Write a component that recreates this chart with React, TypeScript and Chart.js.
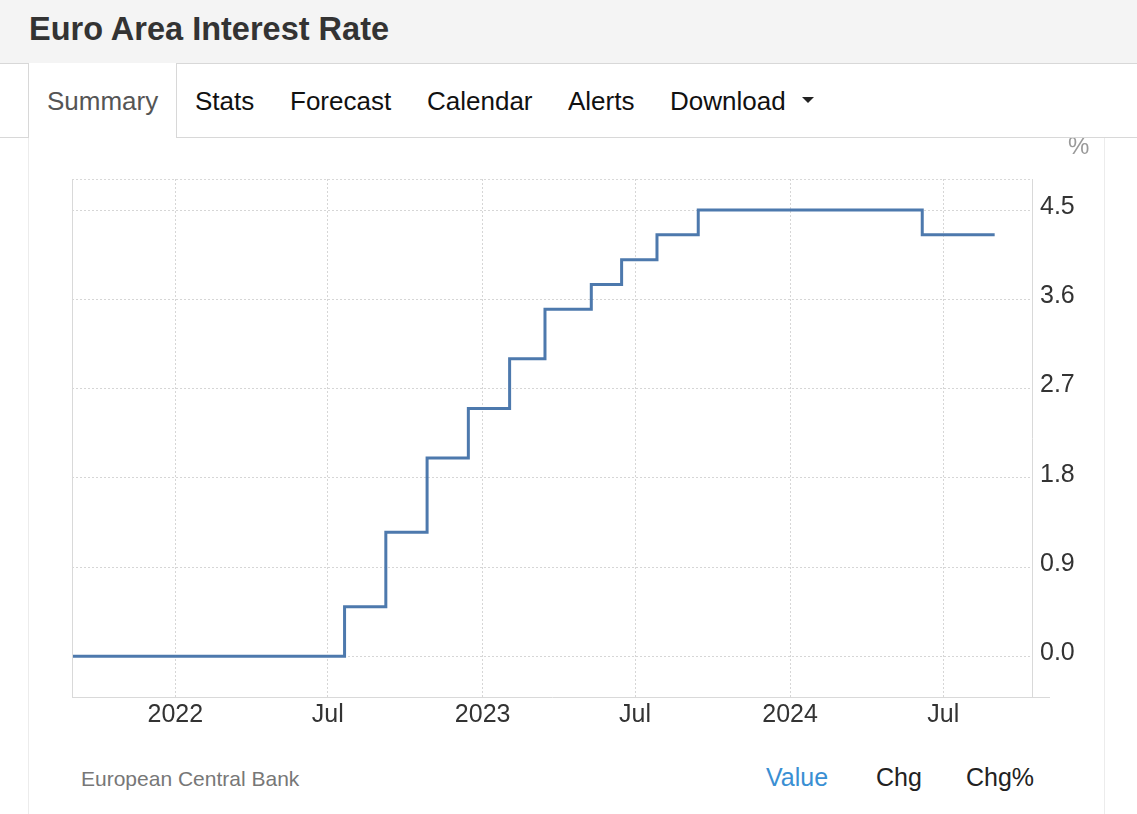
import React, { useEffect, useRef } from "react";
import { Chart, registerables } from "chart.js";

Chart.register(...registerables);

// ---- data ----
const changeDates = [
  "2021-08-31",
  "2022-07-21",
  "2022-09-08",
  "2022-10-27",
  "2022-12-15",
  "2023-02-02",
  "2023-03-16",
  "2023-05-10",
  "2023-06-15",
  "2023-07-27",
  "2023-09-14",
  "2024-06-06",
  "2024-08-31",
];
const rateValues = [0, 0.5, 1.25, 2.0, 2.5, 3.0, 3.5, 3.75, 4.0, 4.25, 4.5, 4.25, 4.25];

const xTickDates = ["2022-01-01", "2022-07-01", "2023-01-01", "2023-07-01", "2024-01-01", "2024-07-01"];
const xTickLabels = ["2022", "Jul", "2023", "Jul", "2024", "Jul"];
const yTickValues = [0, 0.9, 1.8, 2.7, 3.6, 4.5];

const xMin = Date.parse("2021-08-31T08:00:00Z");
const xMax = Date.parse("2024-10-14T08:00:00Z");
const yMin = -0.41;
const yMax = 4.813;

const tabs = [
  { label: "Summary", x: 47 },
  { label: "Stats", x: 195 },
  { label: "Forecast", x: 290 },
  { label: "Calendar", x: 427 },
  { label: "Alerts", x: 568 },
  { label: "Download", x: 670 },
];

const FONT = 'Arial, "Liberation Sans", sans-serif';

const frame = {
  id: "frame",
  afterDraw(chart: any) {
    const { ctx, chartArea } = chart;
    ctx.save();
    ctx.strokeStyle = "#d9d9d9";
    ctx.lineWidth = 1;
    // left solid border
    ctx.beginPath();
    ctx.moveTo(chartArea.left + 0.5, chartArea.top);
    ctx.lineTo(chartArea.left + 0.5, chartArea.bottom);
    ctx.stroke();
    // bottom extension past the right axis
    ctx.beginPath();
    ctx.moveTo(chartArea.right, chartArea.bottom + 0.5);
    ctx.lineTo(chartArea.right + 18, chartArea.bottom + 0.5);
    ctx.stroke();
    // top dotted border
    ctx.setLineDash([2, 2]);
    ctx.beginPath();
    ctx.moveTo(chartArea.left, chartArea.top + 0.5);
    ctx.lineTo(chartArea.right, chartArea.top + 0.5);
    ctx.stroke();
    ctx.restore();
  },
};

function RateChart() {
  const ref = useRef<HTMLCanvasElement | null>(null);
  useEffect(() => {
    if (!ref.current) return;
    const points = changeDates.map((d, i) => ({ x: Date.parse(d), y: rateValues[i] }));
    const chart = new Chart(ref.current, {
      type: "line",
      data: {
        datasets: [
          {
            data: points,
            borderColor: "#4d79ad",
            borderWidth: 3,
            pointRadius: 0,
            stepped: true,
            fill: false,
          },
        ],
      },
      options: {
        animation: false,
        responsive: false,
        layout: { padding: { left: 72, top: 39, right: 0, bottom: 0 } },
        plugins: { legend: { display: false }, tooltip: { enabled: false } },
        scales: {
          x: {
            type: "linear",
            min: xMin,
            max: xMax,
            afterBuildTicks: (s: any) => {
              s.ticks = xTickDates.map((d) => ({ value: Date.parse(d) }));
            },
            afterFit: (s: any) => {
              s.height = 43;
            },
            ticks: {
              autoSkip: false,
              maxRotation: 0,
              padding: 3,
              color: "#333",
              font: { family: FONT, size: 25 },
              callback: (v: any) => {
                const i = xTickDates.findIndex((d) => Date.parse(d) === v);
                return i >= 0 ? xTickLabels[i] : "";
              },
            },
            grid: { color: "#d6d6d6", lineWidth: 1, drawTicks: false },
            border: { display: true, color: "#d9d9d9", dash: [2, 2] },
          },
          y: {
            type: "linear",
            position: "right",
            min: yMin,
            max: yMax,
            afterBuildTicks: (s: any) => {
              s.ticks = yTickValues.map((v) => ({ value: v }));
            },
            afterFit: (s: any) => {
              s.width = 105;
            },
            ticks: {
              padding: 8,
              labelOffset: -3,
              color: "#333",
              font: { family: FONT, size: 25 },
              callback: (v: any) => Number(v).toFixed(1),
            },
            grid: { color: "#d6d6d6", lineWidth: 1, drawTicks: false },
            border: { display: true, color: "#d9d9d9", dash: [2, 2] },
          },
        },
      },
      plugins: [frame],
    } as any);
    return () => chart.destroy();
  }, []);
  return (
    <canvas
      ref={ref}
      width={1137}
      height={600}
      style={{ position: "absolute", left: 0, top: 140, width: 1137, height: 600 }}
    />
  );
}

export default function App() {
  const abs = (o: any) => ({ position: "absolute" as const, whiteSpace: "nowrap" as const, lineHeight: 1, ...o });
  return (
    <div
      style={{
        position: "absolute",
        left: 0,
        top: 0,
        width: 1137,
        height: 814,
        background: "#fff",
        fontFamily: FONT,
        overflow: "hidden",
      }}
    >
      {/* header band */}
      <div style={abs({ left: 0, top: 0, width: 1137, height: 63, background: "#f4f4f4", borderBottom: "1px solid #d8d8d8" })} />
      <div style={abs({ left: 29, top: 12.5, fontSize: 32.5, fontWeight: "bold", color: "#333" })}>Euro Area Interest Rate</div>

      {/* tabs row bottom line */}
      <div style={abs({ left: 0, top: 137, width: 1137, height: 0, borderTop: "1px solid #d8d8d8" })} />
      {/* active tab box */}
      <div
        style={abs({
          left: 28,
          top: 63,
          width: 147,
          height: 75,
          background: "#fff",
          borderLeft: "1px solid #d8d8d8",
          borderRight: "1px solid #d8d8d8",
        })}
      />
      {tabs.map((t, i) => (
        <div key={t.label} style={abs({ left: t.x, top: 88, fontSize: 26, color: i === 0 ? "#555" : "#111" })}>
          {t.label}
        </div>
      ))}
      <div
        style={abs({
          left: 802,
          top: 97,
          width: 0,
          height: 0,
          borderLeft: "6px solid transparent",
          borderRight: "6px solid transparent",
          borderTop: "6px solid #222",
        })}
      />

      {/* content panel side lines */}
      <div style={abs({ left: 28, top: 138, width: 0, height: 676, borderLeft: "1px solid #ececec" })} />
      <div style={abs({ left: 1104, top: 138, width: 0, height: 676, borderLeft: "1px solid #ececec" })} />

      <RateChart />

      {/* unit */}
      <div style={{ ...abs({ left: 1060, top: 138, width: 40, height: 20, overflow: "hidden" }) }}>
        <div style={abs({ left: 8, top: -4, fontSize: 24, color: "#999" })}>%</div>
      </div>

      {/* footer */}
      <div style={abs({ left: 81, top: 768, fontSize: 21, color: "#777" })}>European Central Bank</div>
      <div style={abs({ left: 766, top: 765, fontSize: 25, color: "#3a8fd3" })}>Value</div>
      <div style={abs({ left: 876, top: 765, fontSize: 25, color: "#222" })}>Chg</div>
      <div style={abs({ left: 966, top: 765, fontSize: 25, color: "#222" })}>Chg%</div>
    </div>
  );
}
